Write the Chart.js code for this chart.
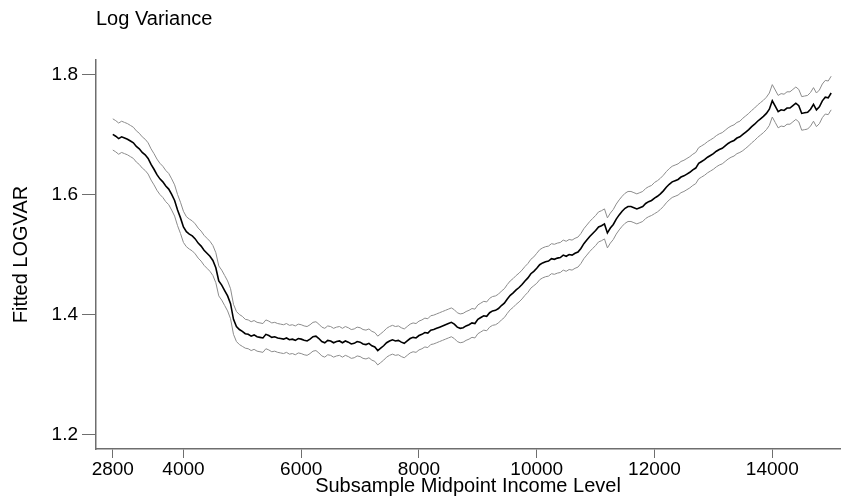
<!DOCTYPE html>
<html>
<head>
<meta charset="utf-8">
<script src="https://cdn.jsdelivr.net/npm/chart.js@4.4.1/dist/chart.umd.min.js"></script>
<style>
  html, body { margin: 0; padding: 0; background: #fff; }
  #wrap { width: 842px; height: 503px; }
</style>
</head>
<body>
<div id="wrap"><canvas id="chart" width="842" height="503"></canvas></div>
<script>
// income levels (subsample midpoints)
const incomeLevels = [
  2800, 2850, 2900, 2950, 3000, 3050, 3100, 3150, 3200, 3250,
  3300, 3350, 3400, 3450, 3500, 3550, 3600, 3650, 3700, 3750,
  3800, 3850, 3900, 3950, 4000, 4050, 4100, 4150, 4200, 4250,
  4300, 4350, 4400, 4450, 4500, 4550, 4600, 4650, 4700, 4750,
  4800, 4850, 4900, 4950, 5000, 5050, 5100, 5150, 5200, 5250,
  5300, 5350, 5400, 5450, 5500, 5550, 5600, 5650, 5700, 5750,
  5800, 5850, 5900, 5950, 6000, 6050, 6100, 6150, 6200, 6250,
  6300, 6350, 6400, 6450, 6500, 6550, 6600, 6650, 6700, 6750,
  6800, 6850, 6900, 6950, 7000, 7050, 7100, 7150, 7200, 7250,
  7300, 7350, 7400, 7450, 7500, 7550, 7600, 7650, 7700, 7750,
  7800, 7850, 7900, 7950, 8000, 8050, 8100, 8150, 8200, 8250,
  8300, 8350, 8400, 8450, 8500, 8550, 8600, 8650, 8700, 8750,
  8800, 8850, 8900, 8950, 9000, 9050, 9100, 9150, 9200, 9250,
  9300, 9350, 9400, 9450, 9500, 9550, 9600, 9650, 9700, 9750,
  9800, 9850, 9900, 9950, 10000, 10050, 10100, 10150, 10200, 10250,
  10300, 10350, 10400, 10450, 10500, 10550, 10600, 10650, 10700, 10750,
  10800, 10850, 10900, 10950, 11000, 11050, 11100, 11150, 11200, 11250,
  11300, 11350, 11400, 11450, 11500, 11550, 11600, 11650, 11700, 11750,
  11800, 11850, 11900, 11950, 12000, 12050, 12100, 12150, 12200, 12250,
  12300, 12350, 12400, 12450, 12500, 12550, 12600, 12650, 12700, 12750,
  12800, 12850, 12900, 12950, 13000, 13050, 13100, 13150, 13200, 13250,
  13300, 13350, 13400, 13450, 13500, 13550, 13600, 13650, 13700, 13750,
  13800, 13850, 13900, 13950, 14000, 14050, 14100, 14150, 14200, 14250,
  14300, 14350, 14400, 14450, 14500, 14550, 14600, 14650, 14700, 14750,
  14800, 14850, 14900, 14950, 15000
];

// fitted log variance
const fitted = [
  1.700, 1.697, 1.693, 1.696, 1.694, 1.692, 1.689, 1.686, 1.680, 1.676,
  1.670, 1.666, 1.660, 1.650, 1.642, 1.633, 1.626, 1.621, 1.614, 1.609,
  1.600, 1.590, 1.574, 1.561, 1.546, 1.538, 1.534, 1.531, 1.526, 1.519,
  1.514, 1.507, 1.502, 1.497, 1.490, 1.478, 1.456, 1.449, 1.440, 1.431,
  1.418, 1.392, 1.380, 1.375, 1.372, 1.368, 1.367, 1.364, 1.366, 1.363,
  1.362, 1.361, 1.367, 1.365, 1.362, 1.363, 1.361, 1.360, 1.359, 1.361,
  1.358, 1.359, 1.357, 1.360, 1.359, 1.357, 1.356, 1.359, 1.363, 1.364,
  1.360, 1.355, 1.353, 1.357, 1.356, 1.353, 1.355, 1.356, 1.353, 1.356,
  1.354, 1.351, 1.352, 1.355, 1.354, 1.351, 1.350, 1.352, 1.348, 1.346,
  1.340, 1.344, 1.348, 1.353, 1.356, 1.358, 1.356, 1.357, 1.354, 1.352,
  1.356, 1.360, 1.362, 1.361, 1.365, 1.367, 1.370, 1.369, 1.374, 1.375,
  1.377, 1.379, 1.381, 1.383, 1.385, 1.387, 1.384, 1.379, 1.377, 1.378,
  1.381, 1.383, 1.386, 1.385, 1.392, 1.395, 1.398, 1.397, 1.403, 1.406,
  1.407, 1.410, 1.415, 1.419, 1.426, 1.432, 1.436, 1.441, 1.445, 1.450,
  1.456, 1.461, 1.468, 1.472, 1.477, 1.483, 1.486, 1.488, 1.489, 1.493,
  1.492, 1.494, 1.495, 1.499, 1.497, 1.500, 1.499, 1.502, 1.504, 1.510,
  1.518, 1.524, 1.530, 1.535, 1.540, 1.546, 1.548, 1.551, 1.536, 1.544,
  1.550, 1.559, 1.566, 1.572, 1.577, 1.580, 1.580, 1.578, 1.576, 1.578,
  1.580, 1.585, 1.588, 1.590, 1.594, 1.597, 1.601, 1.606, 1.612, 1.617,
  1.621, 1.623, 1.625, 1.629, 1.631, 1.634, 1.637, 1.641, 1.644, 1.652,
  1.655, 1.658, 1.662, 1.665, 1.668, 1.672, 1.675, 1.677, 1.681, 1.685,
  1.688, 1.690, 1.694, 1.696, 1.700, 1.704, 1.708, 1.713, 1.717, 1.722,
  1.726, 1.730, 1.735, 1.742, 1.756, 1.747, 1.738, 1.741, 1.740, 1.744,
  1.744, 1.748, 1.752, 1.748, 1.735, 1.736, 1.737, 1.742, 1.750, 1.741,
  1.746, 1.756, 1.762, 1.761, 1.769
];

// upper band
const upperBand = [
  1.726, 1.723, 1.719, 1.722, 1.720, 1.718, 1.715, 1.712, 1.706, 1.702,
  1.696, 1.692, 1.686, 1.676, 1.668, 1.659, 1.652, 1.647, 1.640, 1.635,
  1.626, 1.616, 1.600, 1.587, 1.572, 1.563, 1.559, 1.556, 1.551, 1.544,
  1.539, 1.532, 1.527, 1.522, 1.515, 1.503, 1.481, 1.474, 1.465, 1.456,
  1.443, 1.417, 1.405, 1.400, 1.397, 1.392, 1.391, 1.388, 1.390, 1.387,
  1.386, 1.385, 1.391, 1.389, 1.386, 1.387, 1.385, 1.384, 1.383, 1.385,
  1.382, 1.383, 1.381, 1.384, 1.383, 1.381, 1.380, 1.383, 1.387, 1.388,
  1.384, 1.379, 1.377, 1.381, 1.380, 1.377, 1.379, 1.380, 1.377, 1.380,
  1.378, 1.375, 1.376, 1.379, 1.378, 1.375, 1.374, 1.376, 1.372, 1.370,
  1.364, 1.368, 1.372, 1.377, 1.380, 1.382, 1.380, 1.381, 1.378, 1.376,
  1.380, 1.384, 1.386, 1.385, 1.389, 1.391, 1.394, 1.393, 1.398, 1.399,
  1.401, 1.403, 1.405, 1.407, 1.409, 1.411, 1.408, 1.403, 1.401, 1.402,
  1.405, 1.407, 1.410, 1.409, 1.416, 1.419, 1.422, 1.421, 1.427, 1.430,
  1.431, 1.434, 1.439, 1.443, 1.450, 1.456, 1.460, 1.465, 1.469, 1.474,
  1.480, 1.485, 1.492, 1.496, 1.502, 1.508, 1.511, 1.513, 1.514, 1.518,
  1.517, 1.519, 1.520, 1.524, 1.522, 1.525, 1.524, 1.527, 1.529, 1.535,
  1.543, 1.549, 1.555, 1.560, 1.565, 1.571, 1.573, 1.576, 1.561, 1.569,
  1.575, 1.584, 1.591, 1.597, 1.602, 1.605, 1.605, 1.603, 1.601, 1.603,
  1.605, 1.610, 1.613, 1.615, 1.620, 1.623, 1.627, 1.632, 1.638, 1.643,
  1.647, 1.649, 1.651, 1.655, 1.657, 1.660, 1.663, 1.667, 1.670, 1.678,
  1.681, 1.684, 1.688, 1.691, 1.694, 1.698, 1.701, 1.703, 1.707, 1.711,
  1.714, 1.716, 1.720, 1.722, 1.727, 1.731, 1.735, 1.740, 1.744, 1.749,
  1.753, 1.757, 1.762, 1.769, 1.783, 1.774, 1.765, 1.768, 1.767, 1.771,
  1.771, 1.775, 1.779, 1.775, 1.763, 1.764, 1.765, 1.770, 1.778, 1.769,
  1.774, 1.784, 1.790, 1.789, 1.797
];

// lower band
const lowerBand = [
  1.674, 1.671, 1.667, 1.670, 1.668, 1.666, 1.663, 1.660, 1.654, 1.650,
  1.644, 1.640, 1.634, 1.624, 1.616, 1.607, 1.600, 1.595, 1.588, 1.583,
  1.574, 1.564, 1.548, 1.535, 1.520, 1.513, 1.509, 1.506, 1.501, 1.494,
  1.489, 1.482, 1.477, 1.472, 1.465, 1.453, 1.431, 1.424, 1.415, 1.406,
  1.393, 1.367, 1.355, 1.350, 1.347, 1.344, 1.343, 1.340, 1.342, 1.339,
  1.338, 1.337, 1.343, 1.341, 1.338, 1.339, 1.337, 1.336, 1.335, 1.337,
  1.334, 1.335, 1.333, 1.336, 1.335, 1.333, 1.332, 1.335, 1.339, 1.340,
  1.336, 1.331, 1.329, 1.333, 1.332, 1.329, 1.331, 1.332, 1.329, 1.332,
  1.330, 1.327, 1.328, 1.331, 1.330, 1.327, 1.326, 1.328, 1.324, 1.322,
  1.316, 1.320, 1.324, 1.329, 1.332, 1.334, 1.332, 1.333, 1.330, 1.328,
  1.332, 1.336, 1.338, 1.337, 1.341, 1.343, 1.346, 1.345, 1.350, 1.351,
  1.353, 1.355, 1.357, 1.359, 1.361, 1.363, 1.360, 1.355, 1.353, 1.354,
  1.357, 1.359, 1.362, 1.361, 1.368, 1.371, 1.374, 1.373, 1.379, 1.382,
  1.383, 1.386, 1.391, 1.395, 1.402, 1.408, 1.412, 1.417, 1.421, 1.426,
  1.432, 1.437, 1.444, 1.448, 1.452, 1.458, 1.461, 1.463, 1.464, 1.468,
  1.467, 1.469, 1.470, 1.474, 1.472, 1.475, 1.474, 1.477, 1.479, 1.485,
  1.493, 1.499, 1.505, 1.510, 1.515, 1.521, 1.523, 1.526, 1.511, 1.519,
  1.525, 1.534, 1.541, 1.547, 1.552, 1.555, 1.555, 1.553, 1.551, 1.553,
  1.555, 1.560, 1.563, 1.565, 1.568, 1.571, 1.575, 1.580, 1.586, 1.591,
  1.595, 1.597, 1.599, 1.603, 1.605, 1.608, 1.611, 1.615, 1.618, 1.626,
  1.629, 1.632, 1.636, 1.639, 1.642, 1.646, 1.649, 1.651, 1.655, 1.659,
  1.662, 1.664, 1.668, 1.670, 1.673, 1.677, 1.681, 1.686, 1.690, 1.695,
  1.699, 1.703, 1.708, 1.715, 1.729, 1.720, 1.711, 1.714, 1.713, 1.717,
  1.717, 1.721, 1.725, 1.721, 1.707, 1.708, 1.709, 1.714, 1.722, 1.713,
  1.718, 1.728, 1.734, 1.733, 1.741
];

const xTicks = [2800, 4000, 6000, 8000, 10000, 12000, 14000];
const yTicks = [1.2, 1.4, 1.6, 1.8];

const toPoints = (ys) => incomeLevels.map((x, i) => ({ x: x, y: ys[i] }));

const axisColor = "#6e6e6e";
const bandColor = "#8c8c8c";
const fontFamily = "'Liberation Sans', Arial, sans-serif";

// draws the "Log Variance" heading above the plot, left aligned with the y axis
const headingPlugin = {
  id: "heading",
  afterDraw(chart) {
    const ctx = chart.ctx;
    ctx.save();
    ctx.font = "20px " + fontFamily;
    ctx.fillStyle = "#000";
    ctx.textAlign = "left";
    ctx.textBaseline = "alphabetic";
    ctx.fillText("Log Variance", chart.chartArea.left, 25);
    ctx.restore();
  },
};

new Chart(document.getElementById("chart"), {
  type: "line",
  data: {
    datasets: [
      {
        label: "Upper",
        data: toPoints(upperBand),
        borderColor: bandColor,
        borderWidth: 1,
        pointRadius: 0,
        tension: 0,
      },
      {
        label: "Lower",
        data: toPoints(lowerBand),
        borderColor: bandColor,
        borderWidth: 1,
        pointRadius: 0,
        tension: 0,
      },
      {
        label: "Fitted LOGVAR",
        data: toPoints(fitted),
        borderColor: "#000",
        borderWidth: 1.6,
        pointRadius: 0,
        tension: 0,
      },
    ],
  },
  options: {
    responsive: false,
    animation: false,
    layout: { padding: { top: 60, right: 2, left: 0, bottom: 0 } },
    plugins: {
      legend: { display: false },
      tooltip: { enabled: false },
    },
    scales: {
      x: {
        type: "linear",
        min: 2515,
        max: 15150,
        afterBuildTicks: (scale) => {
          scale.ticks = xTicks.map((v) => ({ value: v }));
        },
        afterFit: (scale) => {
          scale.height = 54;
        },
        grid: { drawOnChartArea: false, drawTicks: true, tickLength: 9, color: axisColor },
        border: { display: true, color: axisColor, width: 1.5 },
        ticks: {
          color: "#000",
          padding: 0,
          maxRotation: 0,
          autoSkip: false,
          font: { family: fontFamily, size: 19 },
          callback: (v) => String(v),
        },
        title: {
          display: true,
          text: "Subsample Midpoint Income Level",
          color: "#000",
          font: { family: fontFamily, size: 20 },
          padding: { top: 0, bottom: 5 },
        },
      },
      y: {
        min: 1.176,
        max: 1.824,
        afterBuildTicks: (scale) => {
          scale.ticks = yTicks.map((v) => ({ value: v }));
        },
        afterFit: (scale) => {
          scale.width = 96;
        },
        grid: { drawOnChartArea: false, drawTicks: true, tickLength: 14, color: axisColor },
        border: { display: true, color: axisColor, width: 1.5 },
        ticks: {
          color: "#000",
          padding: 4,
          font: { family: fontFamily, size: 19 },
          callback: (v) => v.toFixed(1),
        },
        title: {
          display: true,
          text: "Fitted LOGVAR",
          color: "#000",
          font: { family: fontFamily, size: 20 },
          padding: { top: 9, bottom: 0 },
        },
      },
    },
  },
  plugins: [headingPlugin],
});
</script>
</body>
</html>
